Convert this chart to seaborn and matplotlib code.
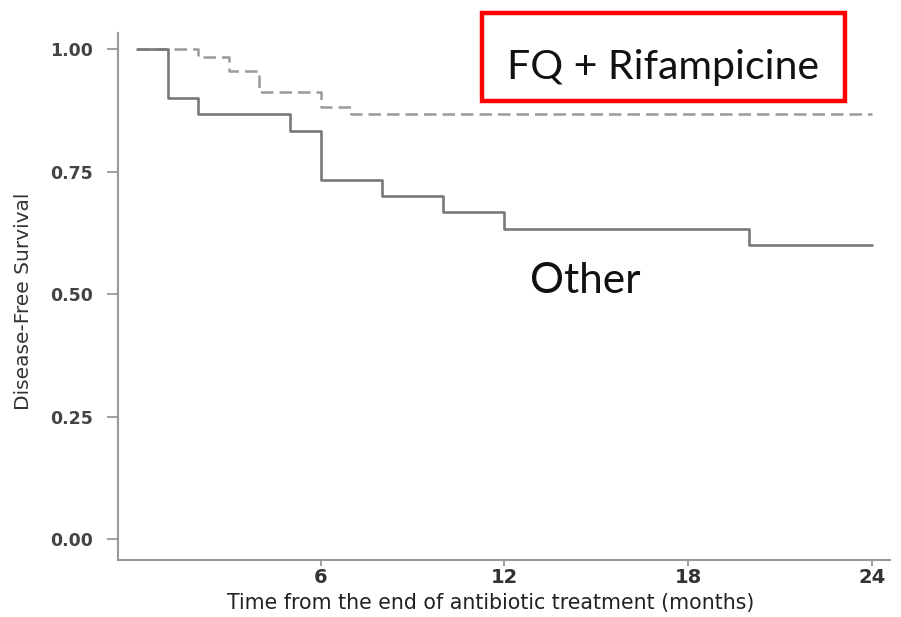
import matplotlib
matplotlib.use("Agg")
import matplotlib.pyplot as plt
import seaborn as sns
import pandas as pd
from matplotlib.patches import FancyBboxPatch

# Data (Kaplan-Meier steps)
other_time = [0, 1, 2, 5, 6, 8, 10, 12, 20, 24]
other_surv = [1.00, 0.900, 0.867, 0.833, 0.733, 0.700, 0.667, 0.633, 0.600, 0.600]
fq_time = [0, 2, 3, 4, 6, 7, 24]
fq_surv = [1.00, 0.985, 0.956, 0.912, 0.882, 0.868, 0.868]
x_ticks = [6, 12, 18, 24]
y_ticks = [0.00, 0.25, 0.50, 0.75, 1.00]
y_ticklabels = ["0.00", "0.25", "0.50", "0.75", "1.00"]

sns.set_theme(style="ticks")
plt.rcParams['font.family'] = ['DejaVu Sans']

df_other = pd.DataFrame({"t": other_time, "s": other_surv})
df_fq = pd.DataFrame({"t": fq_time, "s": fq_surv})

fig = plt.figure(figsize=(9.01, 6.17), dpi=100)
ax = fig.add_axes([0.131, 0.0924, 0.857, 0.854])

sns.lineplot(data=df_fq, x="t", y="s", ax=ax, drawstyle="steps-post",
             color="#9a9a9a", linewidth=1.8, linestyle=(0, (5, 2.4)))
sns.lineplot(data=df_other, x="t", y="s", ax=ax, drawstyle="steps-post",
             color="#787878", linewidth=1.9)

ax.set_xlim(-0.62, 24.6)
ax.set_ylim(-0.043, 1.033)
ax.set_xticks(x_ticks)
ax.set_xticklabels([str(v) for v in x_ticks], fontsize=14, color="#333333",
                   fontweight="semibold")
ax.set_yticks(y_ticks)
ax.set_yticklabels(y_ticklabels, fontsize=12.5, color="#444444", fontweight="bold")
ax.tick_params(axis="y", length=8, width=1.3, color="#999999", pad=10)
ax.tick_params(axis="x", length=4.5, width=1.3, color="#999999", pad=1.5)
for side in ["top", "right"]:
    ax.spines[side].set_visible(False)
for side in ["left", "bottom"]:
    ax.spines[side].set_color("#999999")
    ax.spines[side].set_linewidth(1.5)

ax.set_xlabel("Time from the end of antibiotic treatment (months)", fontsize=14.8,
              color="#222222")
ax.xaxis.label.set_va("center")
ax.xaxis.set_label_coords(0.483, -0.0816)
ax.set_ylabel("Disease-Free Survival", fontsize=14.5, color="#333333")
ax.yaxis.label.set_va("center")
ax.yaxis.set_label_coords(-0.122, 0.49)

# Annotations
fig.text(663 / 901, 1 - 67 / 617, "FQ + Rifampicine", fontsize=29.5, family=["Lato", "DejaVu Sans"],
         ha="center", va="center", color="#111111")
box = FancyBboxPatch((482 / 901, 1 - 101 / 617), (845 - 482) / 901, (101 - 13) / 617,
                     boxstyle="square,pad=0", transform=fig.transFigure,
                     fill=False, edgecolor="#ff0000", linewidth=3.2)
fig.patches.append(box)
fig.text(585 / 901, 1 - 281 / 617, "Other", fontsize=30.5, family=["Lato", "DejaVu Sans"],
         ha="center", va="center", color="#111111")

fig.savefig("out.png", dpi=100, facecolor="white")
